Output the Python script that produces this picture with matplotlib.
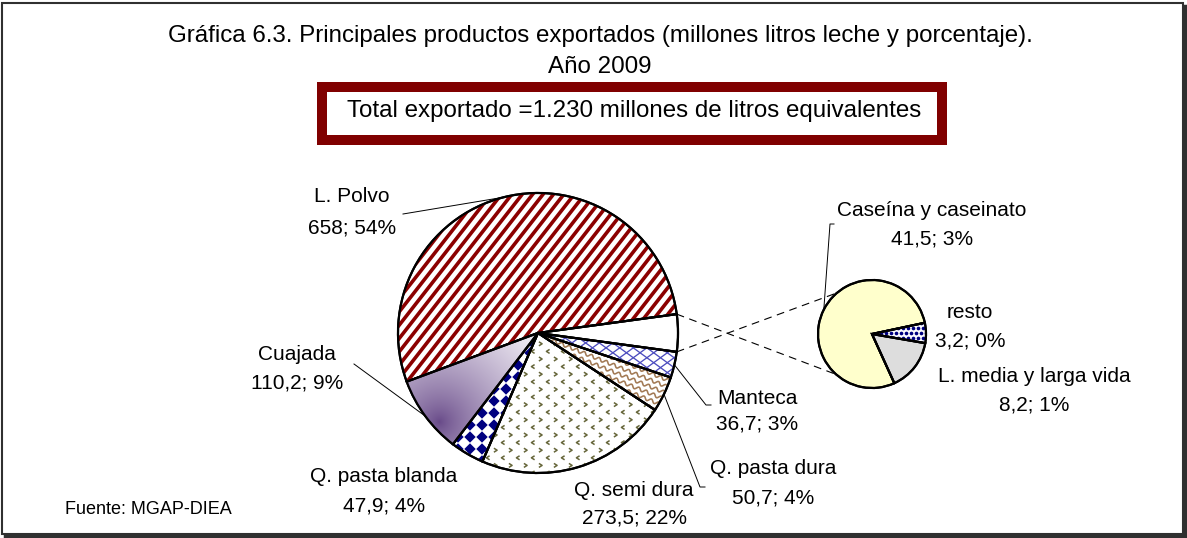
import numpy as np
import matplotlib
matplotlib.use("Agg")
import matplotlib.pyplot as plt
from matplotlib.patches import Wedge, Rectangle
from matplotlib.collections import LineCollection, PolyCollection

plt.rcParams["font.family"] = ["Liberation Sans", "DejaVu Sans"]

W, H = 1187, 538

title_lines = ["Gráfica 6.3. Principales productos exportados (millones litros leche y porcentaje).",
               "Año 2009"]
total_text = "Total exportado =1.230 millones de litros equivalentes"
source_text = "Fuente: MGAP-DIEA"

main_labels = ["L. Polvo", "Cuajada", "Q. pasta blanda", "Q. semi dura", "Q. pasta dura", "Manteca"]
main_values = [658, 110.2, 47.9, 273.5, 50.7, 36.7]
sub_labels = ["Caseína y caseinato", "resto", "L. media y larga vida"]
sub_values = [41.5, 3.2, 8.2]


def Y(y):
    """pixel row (from top) -> data y."""
    return H - y


def fmt(v, total):
    return f"{v:g}".replace(".", ",") + f"; {round(100 * v / total):.0f}%"


def edge_pt(w, frac=1.0):
    a = np.radians((w.theta1 + w.theta2) / 2)
    return w.center[0] + frac * w.r * np.cos(a), w.center[1] + frac * w.r * np.sin(a)


# ---- texture helpers (all in pixel units, clipped to a wedge) ----
def stripes(ax, w, angle, gap, color, lw_px, z=2):
    cx, cy = w.center
    r = w.r
    d = np.array([np.cos(np.radians(angle)), np.sin(np.radians(angle))])
    n = np.array([-d[1], d[0]])
    segs = []
    for o in np.arange(-r, r + gap, gap):
        p = np.array([cx, cy]) + o * n
        segs.append([p - r * d, p + r * d])
    lc = LineCollection(segs, colors=color, linewidths=lw_px * 0.72, zorder=z)
    ax.add_collection(lc)
    lc.set_clip_path(w)


def waves(ax, w, angle, gap, wl, amp, color, lw_px, z=2):
    cx, cy = w.center
    r = w.r
    d = np.array([np.cos(np.radians(angle)), np.sin(np.radians(angle))])
    n = np.array([-d[1], d[0]])
    t = np.arange(-r, r, 0.5)
    segs = []
    for o in np.arange(-r, r + gap, gap):
        off = o + amp * np.sin(2 * np.pi * t / wl)
        segs.append(np.c_[cx + t * d[0] + off * n[0], cy + t * d[1] + off * n[1]])
    lc = LineCollection(segs, colors=color, linewidths=lw_px * 0.72, zorder=z)
    ax.add_collection(lc)
    lc.set_clip_path(w)


def chevrons(ax, w, dx, dy, color, z=2):
    cx, cy = w.center
    r = w.r
    segs = []
    for j, y in enumerate(np.arange(cy - r, cy + r, dy)):
        sgn = 1 if j % 2 == 0 else -1
        for x in np.arange(cx - r + (j % 2) * dx / 2, cx + r, dx):
            segs.append([(x + 1.6 * sgn, y + 2), (x - 1.6 * sgn, y), (x + 1.6 * sgn, y - 2)])
    lc = LineCollection(segs, colors=color, linewidths=1.1, zorder=z)
    ax.add_collection(lc)
    lc.set_clip_path(w)


def diamonds(ax, w, a, color, z=2):
    """rotated checkerboard: filled diamonds touching at their corners."""
    cx, cy = w.center
    r = w.r
    polys = []
    k = 0.95 * a
    for y in np.arange(cy - r, cy + r + 2 * a, 2 * a):
        for x in np.arange(cx - r, cx + r + 2 * a, 2 * a):
            polys.append([(x - k, y), (x, y + k), (x + k, y), (x, y - k)])
    pc = PolyCollection(polys, facecolors=color, edgecolors="none", zorder=z)
    ax.add_collection(pc)
    pc.set_clip_path(w)


def dots(ax, w, step, color, size, z=2):
    cx, cy = w.center
    r = w.r
    xs, ys = [], []
    for j, y in enumerate(np.arange(cy - r, cy + r, step)):
        for x in np.arange(cx - r + (j % 2) * step / 2, cx + r, step):
            xs.append(x)
            ys.append(y)
    sc = ax.scatter(xs, ys, s=size, c=color, linewidths=0, zorder=z)
    sc.set_clip_path(w)


def gradient(ax, w, focus, reach, dark, light, z=2):
    cx, cy = w.center
    r = w.r
    xs = np.linspace(cx - r, cx + r, 400)
    ys = np.linspace(cy - r, cy + r, 400)
    X, Yg = np.meshgrid(xs, ys)
    t = np.clip(np.hypot(X - focus[0], Yg - focus[1]) / reach, 0, 1) ** 0.75
    img = (1 - t)[..., None] * np.array(dark) + t[..., None] * np.array(light)
    im = ax.imshow(img, extent=(cx - r, cx + r, cy - r, cy + r), origin="lower",
                   interpolation="bilinear", aspect="auto", zorder=z)
    im.set_clip_path(w)


def outline(ax, w, lw=1.5):
    ax.add_patch(Wedge(w.center, w.r, w.theta1, w.theta2, fc="none", ec="black",
                       lw=lw, zorder=4))


fig = plt.figure(figsize=(W / 100, H / 100), dpi=100)
ax = fig.add_axes([0, 0, 1, 1])

# ---- main pie ----
other = sum(sub_values)
total = sum(main_values) + other
vals = main_values + [other]
start = 180 * other / total
explode = [0.02, 0, 0, 0, 0.012, 0, 0.01]
mc, mr = (538, Y(333)), 140
wedges, _ = ax.pie(vals, startangle=start, counterclock=True, center=mc, radius=mr,
                   colors=["white"] * len(vals), explode=explode, frame=True,
                   wedgeprops=dict(ec="black", lw=1.5))

stripes(ax, wedges[0], 52, 8.2, "#8B0000", 3.6)
g = np.radians(222)
gradient(ax, wedges[1], (mc[0] + 0.95 * mr * np.cos(g), mc[1] + 0.95 * mr * np.sin(g)),
         135, (0.40, 0.28, 0.53), (0.97, 0.96, 0.98))
diamonds(ax, wedges[2], 6.0, "#000080")
chevrons(ax, wedges[3], 15, 7.6, "#66663A")
waves(ax, wedges[4], -22, 6.3, 8, 1.6, "#A27A55", 1.6)
stripes(ax, wedges[5], 36, 8.0, "#4B4BBE", 1.3)
stripes(ax, wedges[5], -36, 8.0, "#4B4BBE", 1.3)
for w in wedges:
    outline(ax, w, 1.6)

# ---- secondary pie ----
sc_, sr = (872, Y(334)), 54
sub_start = 12 + 360 * sub_values[0] / other
swedges, _ = ax.pie(sub_values, startangle=sub_start, counterclock=False, center=sc_, radius=sr,
                    colors=["#FFFFCC", "white", "#DDDDDD"], frame=True,
                    wedgeprops=dict(ec="black", lw=1.5))
for w in swedges:
    w.set_zorder(3)
dots(ax, swedges[1], 5.0, "#000080", 7, z=3.5)
for w in swedges:
    outline(ax, w, 1.6)

# connector lines (hidden behind the secondary pie)
ow = wedges[-1]
for ang, sy in ((ow.theta1, sc_[1] + sr), (ow.theta2, sc_[1] - sr)):
    a = np.radians(ang)
    p0 = (ow.center[0] + ow.r * np.cos(a), ow.center[1] + ow.r * np.sin(a))
    ax.plot([p0[0], sc_[0]], [p0[1], sy], color="black", lw=0.8, ls=(0, (7, 5)), zorder=1.5)

# ---- labels ----
fs = 15
label_pos = {
    "L. Polvo": (352, 196, 228),
    "Cuajada": (297, 355, 383),
    "Q. pasta blanda": (384, 476, 506),
    "Q. semi dura": (634, 490, 518),
    "Q. pasta dura": (773, 468, 498),
    "Manteca": (757, 398, 424),
    "Caseína y caseinato": (932, 210, 239),
    "resto": (970, 312, 341),
    "L. media y larga vida": (1034, 376, 405),
}
for lab, v in list(zip(main_labels, main_values)) + list(zip(sub_labels, sub_values)):
    x, y1, y2 = label_pos[lab]
    ax.text(x, Y(y1), lab, ha="center", va="center", fontsize=fs, zorder=6)
    ax.text(x, Y(y2), fmt(v, total), ha="center", va="center", fontsize=fs, zorder=6)

# leader lines: label anchor (pixel) -> wedge edge at mid angle
leaders = [
    (wedges[0], [(403, 214)]),
    (wedges[1], [(354, 364)]),
    (wedges[5], [(706, 405), (711, 405)]),
    (wedges[4], [(700, 487), (705, 487)]),
    (swedges[0], [(830, 224), (834, 224)]),
]
for w, pts in leaders:
    ex, ey = edge_pt(w)
    xs = [ex] + [p[0] for p in pts]
    ys = [ey] + [Y(p[1]) for p in pts]
    ax.plot(xs, ys, color="black", lw=0.7, zorder=5)

# ---- titles & box ----
ax.text(600, Y(36), title_lines[0], ha="center", va="center", fontsize=17.4)
ax.text(600, Y(67), title_lines[1], ha="center", va="center", fontsize=17.4)
ax.add_patch(Rectangle((322, Y(140)), 620, 53, fc="white", ec="#800000", lw=10 * 0.72, zorder=5))
ax.text(634, Y(111), total_text, ha="center", va="center", fontsize=17.4, zorder=6)
ax.text(65, Y(509), source_text, ha="left", va="center", fontsize=13)

# ---- chart frame with shadow ----
ax.add_patch(Rectangle((2, Y(534)), 1181, 531, fc="none", ec="#303030", lw=1.5, zorder=7))
ax.plot([1184.5, 1184.5], [Y(6), Y(536)], color="#303030", lw=2.5, zorder=7)
ax.plot([5, 1186], [Y(535.5), Y(535.5)], color="#303030", lw=2.5, zorder=7)

ax.set_xlim(0, W)
ax.set_ylim(0, H)
ax.set_aspect("auto")
ax.axis("off")
fig.savefig("out.png", dpi=100)
